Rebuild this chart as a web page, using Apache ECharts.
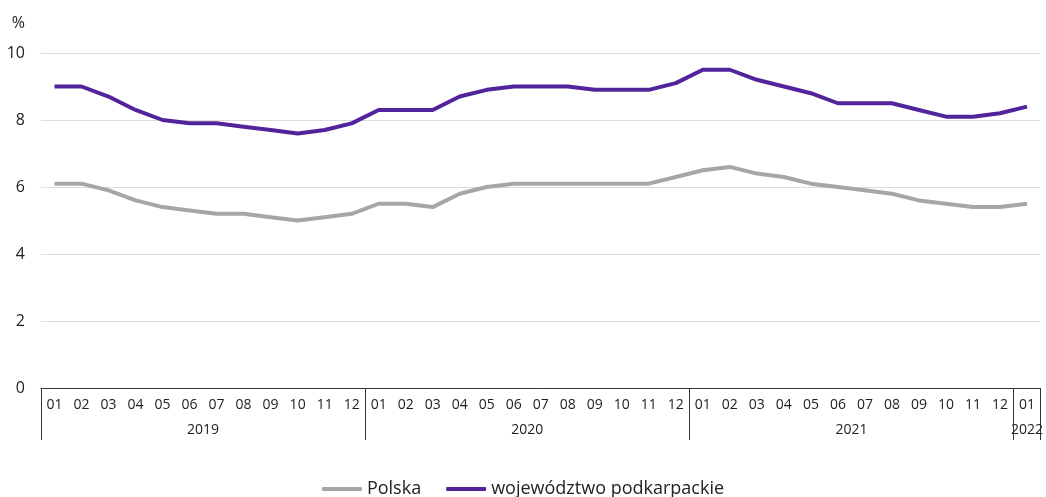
<!DOCTYPE html>
<html><head><meta charset="utf-8">
<script src="https://cdn.jsdelivr.net/npm/echarts@6/dist/echarts.min.js"></script>
<style>html,body{margin:0;padding:0;background:#fff}#c{width:1046px;height:497px}</style>
</head><body><div id="c"></div>
<script>
const months = ['01','02','03','04','05','06','07','08','09','10','11','12',
  '01','02','03','04','05','06','07','08','09','10','11','12',
  '01','02','03','04','05','06','07','08','09','10','11','12','01'];
const years = ['2019','2020','2021','2022'];
const yearSpans = [12,12,12,1];
const polska = [6.1,6.1,5.9,5.6,5.4,5.3,5.2,5.2,5.1,5.0,5.1,5.2,
  5.5,5.5,5.4,5.8,6.0,6.1,6.1,6.1,6.1,6.1,6.1,6.3,
  6.5,6.6,6.4,6.3,6.1,6.0,5.9,5.8,5.6,5.5,5.4,5.4,5.5];
const podkarpackie = [9.0,9.0,8.7,8.3,8.0,7.9,7.9,7.8,7.7,7.6,7.7,7.9,
  8.3,8.3,8.3,8.7,8.9,9.0,9.0,9.0,8.9,8.9,8.9,9.1,
  9.5,9.5,9.2,9.0,8.8,8.5,8.5,8.5,8.3,8.1,8.1,8.2,8.4];
const yTicks = [0,2,4,6,8,10];

// half-month grid for the year axis (points at boundaries and centers)
const nHalf = months.length * 2 + 1;
const halfData = [];
const labelAt = {}; const tickAt = {0:true};
let pos = 0;
yearSpans.forEach((s, i) => {
  labelAt[pos + s] = years[i];
  pos += 2 * s;
  tickAt[pos] = true;
});
tickAt[nHalf - 1] = true;
for (let k = 0; k < nHalf; k++) halfData.push(labelAt[k] || '');

const font = '"Open Sans", "Noto Sans", sans-serif';
const chart = echarts.init(document.getElementById('c'));
chart.setOption({
  animation: false,
  textStyle: {fontFamily: font},
  grid: {left: 41, right: 5, top: 53, bottom: 109, containLabel: false},
  legend: {
    bottom: -6, left: 'center', itemWidth: 40, itemHeight: 4, itemGap: 25,
    icon: 'roundRect',
    textStyle: {fontSize: 18, color: '#222', fontFamily: font},
    data: ['Polska', 'województwo podkarpackie']
  },
  xAxis: [{
    type: 'category', data: months, boundaryGap: true, position: 'bottom',
    axisLine: {show: true, lineStyle: {color: '#333', width: 1}},
    axisTick: {show: false},
    axisLabel: {interval: 0, fontSize: 14, color: '#222', margin: 10}
  }, {
    type: 'category', data: halfData, boundaryGap: false, position: 'bottom',
    axisLine: {show: false},
    axisTick: {show: true, length: 52, interval: (i) => !!tickAt[i], lineStyle: {color: '#333', width: 1}},
    axisLabel: {interval: (i) => !!labelAt[i], fontSize: 14, color: '#222', margin: 35}
  }],
  yAxis: {
    type: 'value', min: 0, max: 10, interval: 2,
    name: '%', nameGap: 22,
    nameTextStyle: {fontSize: 16, color: '#222', align: 'right', padding: [0, 16, 0, 0]},
    axisLine: {show: false}, axisTick: {show: false},
    axisLabel: {fontSize: 16, color: '#222', margin: 16, formatter: (v) => yTicks.includes(v) ? String(v) : ''},
    splitLine: {lineStyle: {color: '#dcdcdc', width: 1}}
  },
  series: [{
    name: 'Polska', type: 'line', data: polska, xAxisIndex: 0,
    symbol: 'none', lineStyle: {color: '#a6a6a6', width: 4}, itemStyle: {color: '#a6a6a6'}
  }, {
    name: 'województwo podkarpackie', type: 'line', data: podkarpackie, xAxisIndex: 0,
    symbol: 'none', lineStyle: {color: '#52249b', width: 4}, itemStyle: {color: '#52249b'}
  }]
});
</script></body></html>
